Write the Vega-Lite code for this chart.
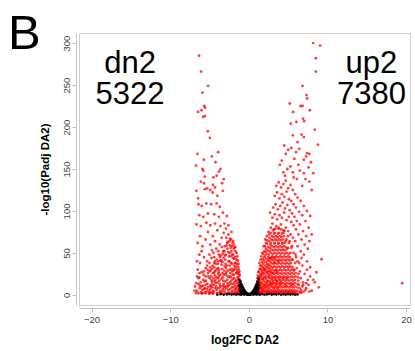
{
"$schema": "https://vega.github.io/schema/vega-lite/v6.json",
"autosize": "none",
"width": 331,
"height": 272,
"padding": {"left": 79, "top": 33, "right": 5, "bottom": 46},
"background": "white",
"config": {"view": {"stroke": "#cfcfcf", "strokeWidth": 1}, "font": "Liberation Sans"},
"title": {"text": "B", "anchor": "start", "frame": "group", "orient": "top", "offset": 0, "dx": -71, "dy": 65, "baseline": "alphabetic", "fontSize": 49, "fontWeight": "normal", "font": "Liberation Sans", "color": "black"},
"datasets": {
"dn": [
{"fc":-0.85,"p":2},{"fc":-0.9,"p":4},{"fc":-0.95,"p":7},{"fc":-0.88,"p":3},{"fc":-1.0,"p":10},{"fc":-0.92,"p":5.5},{"fc":-0.97,"p":1.8},{"fc":-1.02,"p":13},{"fc":-0.9,"p":8.5},
{"fc":-1.1,"p":3},{"fc":-1.15,"p":6},{"fc":-1.2,"p":9},{"fc":-1.05,"p":12},{"fc":-1.25,"p":15},{"fc":-1.18,"p":18},{"fc":-1.22,"p":22},{"fc":-1.28,"p":26},{"fc":-1.12,"p":2},{"fc":-1.3,"p":30},{"fc":-1.27,"p":5},{"fc":-1.08,"p":16},{"fc":-1.24,"p":11},{"fc":-1.16,"p":24},
{"fc":-1.35,"p":2.5},{"fc":-1.4,"p":6},{"fc":-1.45,"p":10},{"fc":-1.5,"p":14},{"fc":-1.38,"p":19},{"fc":-1.42,"p":25},{"fc":-1.55,"p":30},{"fc":-1.48,"p":36},{"fc":-1.58,"p":42},{"fc":-1.33,"p":33},{"fc":-1.52,"p":4},{"fc":-1.6,"p":8},{"fc":-1.44,"p":21},{"fc":-1.57,"p":17},{"fc":-1.36,"p":12},{"fc":-1.5,"p":27},{"fc":-1.46,"p":46},
{"fc":-1.65,"p":3},{"fc":-1.7,"p":7},{"fc":-1.75,"p":11},{"fc":-1.8,"p":15},{"fc":-1.85,"p":20},{"fc":-1.9,"p":24},{"fc":-1.95,"p":29},{"fc":-1.68,"p":33},{"fc":-1.78,"p":38},{"fc":-1.88,"p":43},{"fc":-1.98,"p":48},{"fc":-1.72,"p":52},{"fc":-1.92,"p":55},{"fc":-1.62,"p":26},{"fc":-1.83,"p":5},{"fc":-1.97,"p":9},{"fc":-1.66,"p":17},{"fc":-1.76,"p":2},{"fc":-1.86,"p":31},{"fc":-1.94,"p":13},{"fc":-1.73,"p":45},{"fc":-1.82,"p":57},
{"fc":-2.05,"p":2},{"fc":-2.1,"p":5},{"fc":-2.15,"p":9},{"fc":-2.2,"p":13},{"fc":-2.25,"p":17},{"fc":-2.3,"p":21},{"fc":-2.35,"p":26},{"fc":-2.4,"p":30},{"fc":-2.45,"p":35},{"fc":-2.5,"p":40},{"fc":-2.02,"p":44},{"fc":-2.12,"p":48},{"fc":-2.22,"p":52},{"fc":-2.32,"p":56},{"fc":-2.42,"p":59},{"fc":-2.08,"p":24},{"fc":-2.18,"p":31},{"fc":-2.28,"p":38},{"fc":-2.38,"p":7},{"fc":-2.48,"p":12},{"fc":-2.03,"p":19},{"fc":-2.13,"p":37},{"fc":-2.23,"p":3},{"fc":-2.33,"p":46},{"fc":-2.43,"p":22},{"fc":-2.07,"p":62},{"fc":-2.27,"p":66},{"fc":-2.47,"p":50},
{"fc":-2.55,"p":3},{"fc":-2.6,"p":6},{"fc":-2.65,"p":10},{"fc":-2.7,"p":14},{"fc":-2.75,"p":18},{"fc":-2.8,"p":23},{"fc":-2.85,"p":27},{"fc":-2.9,"p":32},{"fc":-2.95,"p":37},{"fc":-3.0,"p":42},{"fc":-2.52,"p":46},{"fc":-2.62,"p":51},{"fc":-2.72,"p":55},{"fc":-2.82,"p":59},{"fc":-2.92,"p":48},{"fc":-2.58,"p":21},{"fc":-2.68,"p":29},{"fc":-2.78,"p":35},{"fc":-2.88,"p":8},{"fc":-2.98,"p":16},{"fc":-2.57,"p":40},{"fc":-2.77,"p":2},{"fc":-2.67,"p":63},{"fc":-2.87,"p":68},{"fc":-2.97,"p":25},
{"fc":-3.05,"p":2},{"fc":-3.1,"p":5},{"fc":-3.15,"p":9},{"fc":-3.2,"p":13},{"fc":-3.25,"p":17},{"fc":-3.3,"p":21},{"fc":-3.35,"p":26},{"fc":-3.4,"p":31},{"fc":-3.45,"p":36},{"fc":-3.5,"p":41},{"fc":-3.02,"p":47},{"fc":-3.12,"p":52},{"fc":-3.22,"p":44},{"fc":-3.32,"p":49},{"fc":-3.08,"p":34},{"fc":-3.18,"p":24},{"fc":-3.28,"p":11},{"fc":-3.38,"p":4},{"fc":-3.48,"p":19},{"fc":-3.42,"p":57},{"fc":-3.14,"p":29},{"fc":-3.36,"p":39},
{"fc":-3.55,"p":2},{"fc":-3.6,"p":5},{"fc":-3.65,"p":9},{"fc":-3.7,"p":13},{"fc":-3.75,"p":17},{"fc":-3.8,"p":22},{"fc":-3.85,"p":27},{"fc":-3.9,"p":32},{"fc":-3.95,"p":37},{"fc":-3.58,"p":41},{"fc":-3.68,"p":45},{"fc":-3.78,"p":30},{"fc":-3.88,"p":8},{"fc":-3.98,"p":15},{"fc":-3.62,"p":24},{"fc":-3.72,"p":3},{"fc":-3.82,"p":48},{"fc":-3.92,"p":20},
{"fc":-4.05,"p":2},{"fc":-4.1,"p":6},{"fc":-4.15,"p":10},{"fc":-4.2,"p":14},{"fc":-4.25,"p":18},{"fc":-4.3,"p":23},{"fc":-4.35,"p":28},{"fc":-4.4,"p":33},{"fc":-4.45,"p":4},{"fc":-4.08,"p":31},{"fc":-4.18,"p":37},{"fc":-4.28,"p":8},{"fc":-4.38,"p":16},{"fc":-4.48,"p":12},{"fc":-4.12,"p":21},{"fc":-4.42,"p":26},
{"fc":-4.55,"p":2},{"fc":-4.6,"p":5},{"fc":-4.65,"p":9},{"fc":-4.7,"p":13},{"fc":-4.75,"p":18},{"fc":-4.8,"p":22},{"fc":-4.85,"p":3},{"fc":-4.9,"p":7},{"fc":-4.95,"p":11},{"fc":-4.58,"p":26},{"fc":-4.68,"p":16},{"fc":-4.88,"p":29},{"fc":-4.98,"p":20},
{"fc":-5.05,"p":2},{"fc":-5.1,"p":5},{"fc":-5.2,"p":9},{"fc":-5.3,"p":13},{"fc":-5.4,"p":4},{"fc":-5.45,"p":17},{"fc":-5.15,"p":22},{"fc":-5.35,"p":7},{"fc":-5.25,"p":30},
{"fc":-5.6,"p":3},{"fc":-5.7,"p":7},{"fc":-5.8,"p":11},{"fc":-5.9,"p":2},{"fc":-5.65,"p":16},{"fc":-5.95,"p":6},{"fc":-5.75,"p":24},
{"fc":-6.1,"p":3},{"fc":-6.25,"p":8},{"fc":-6.4,"p":13},{"fc":-6.6,"p":5},{"fc":-6.85,"p":10},{"fc":-6.3,"p":21},{"fc":-6.5,"p":30},{"fc":-6.7,"p":2},{"fc":-6.2,"p":38},
{"fc":-4.3,"p":40},{"fc":-4.6,"p":35},{"fc":-4.9,"p":33},{"fc":-5.2,"p":26},{"fc":-5.5,"p":22},{"fc":-5.8,"p":18},{"fc":-6.1,"p":15},{"fc":-6.4,"p":20},{"fc":-6.7,"p":14},{"fc":-6.9,"p":5},{"fc":-6.0,"p":10},{"fc":-5.5,"p":12},{"fc":-5.0,"p":28},{"fc":-4.7,"p":31},{"fc":-4.4,"p":38},{"fc":-4.1,"p":42},{"fc":-3.85,"p":40},{"fc":-3.55,"p":47},{"fc":-3.25,"p":52},{"fc":-3.05,"p":58},{"fc":-2.75,"p":62},{"fc":-2.45,"p":64},{"fc":-2.15,"p":58},{"fc":-1.9,"p":60},{"fc":-1.7,"p":57},{"fc":-1.55,"p":50},{"fc":-1.4,"p":41},{"fc":-1.3,"p":37},{"fc":-1.2,"p":28},{"fc":-5.7,"p":28},{"fc":-6.3,"p":26},{"fc":-6.6,"p":22},{"fc":-5.3,"p":35},{"fc":-5.0,"p":38},{"fc":-4.75,"p":44},{"fc":-4.5,"p":50},{"fc":-6.4,"p":2},{"fc":-6.0,"p":1.8},{"fc":-5.5,"p":1.9},{"fc":-5.0,"p":1.7},{"fc":-4.6,"p":1.6},{"fc":-3.4,"p":1.6},{"fc":-3.0,"p":10},{"fc":-2.7,"p":11},{"fc":-2.4,"p":15},{"fc":-2.1,"p":28},{"fc":-1.85,"p":35},{"fc":-1.6,"p":38},{"fc":-3.6,"p":11},{"fc":-3.3,"p":7},{"fc":-3.9,"p":25},{"fc":-4.2,"p":29},{"fc":-4.5,"p":20},{"fc":-4.8,"p":10},{"fc":-5.6,"p":8},{"fc":-6.2,"p":11},
{"fc":-6.5,"p":62},{"fc":-6.2,"p":70},{"fc":-5.9,"p":58},{"fc":-5.5,"p":66},{"fc":-5.2,"p":75},{"fc":-4.9,"p":60},{"fc":-4.6,"p":70},{"fc":-4.3,"p":64},{"fc":-4.0,"p":77},{"fc":-3.7,"p":60},{"fc":-3.45,"p":68},{"fc":-3.2,"p":74},{"fc":-2.9,"p":79},{"fc":-2.6,"p":72},{"fc":-2.4,"p":67},{"fc":-2.2,"p":75},{"fc":-2.0,"p":64},{"fc":-6.0,"p":52},{"fc":-5.7,"p":45},{"fc":-5.3,"p":40},{"fc":-5.0,"p":48},{"fc":-4.7,"p":53},{"fc":-4.4,"p":45},{"fc":-4.15,"p":55},{"fc":-3.9,"p":52},{"fc":-6.3,"p":48},{"fc":-6.6,"p":40},{"fc":-5.5,"p":32},{"fc":-6.0,"p":27},
{"fc":-6.66,"p":84},{"fc":-6.1,"p":82},{"fc":-5.4,"p":86},{"fc":-4.9,"p":83},{"fc":-4.3,"p":85},{"fc":-3.6,"p":82},{"fc":-3.1,"p":85},{"fc":-2.6,"p":83},
{"fc":-6.3,"p":95},{"fc":-5.8,"p":93},{"fc":-5.2,"p":97},{"fc":-4.4,"p":96},{"fc":-3.8,"p":93},{"fc":-3.3,"p":98},{"fc":-2.8,"p":94},
{"fc":-6.4,"p":108},{"fc":-6.0,"p":106},{"fc":-5.4,"p":109},{"fc":-4.8,"p":108},{"fc":-4.1,"p":109},{"fc":-3.7,"p":105},
{"fc":-6.66,"p":124},{"fc":-5.6,"p":126},{"fc":-6.45,"p":115},{"fc":-4.6,"p":122},{"fc":-4.0,"p":118},{"fc":-3.3,"p":124},
{"fc":-4.55,"p":131},{"fc":-4.3,"p":128},{"fc":-5.3,"p":127},{"fc":-4.9,"p":125},{"fc":-6.1,"p":135},{"fc":-5.7,"p":133},{"fc":-3.2,"p":138},{"fc":-3.4,"p":133},
{"fc":-4.1,"p":142},{"fc":-4.5,"p":140},{"fc":-5.6,"p":141},{"fc":-5.9,"p":150},{"fc":-5.8,"p":148},{"fc":-3.6,"p":150},{"fc":-3.8,"p":147},
{"fc":-6.7,"p":154},{"fc":-4.24,"p":158},{"fc":-5.72,"p":161},{"fc":-4.7,"p":165},{"fc":-3.9,"p":170},{"fc":-6.53,"p":168},
{"fc":-4.96,"p":187},{"fc":-5.22,"p":195},{"fc":-5.81,"p":212},{"fc":-5.6,"p":213},{"fc":-6.02,"p":220},{"fc":-6.45,"p":218},{"fc":-5.56,"p":223},{"fc":-5.68,"p":225},{"fc":-5.89,"p":241},{"fc":-5.18,"p":249},{"fc":-6.07,"p":266},{"fc":-6.32,"p":285}
],
"up": [
{"fc":0.88,"p":2},{"fc":0.9,"p":4},{"fc":0.95,"p":7},{"fc":0.92,"p":3},{"fc":1.0,"p":10},{"fc":0.97,"p":5.5},{"fc":0.86,"p":1.8},{"fc":1.02,"p":13},{"fc":0.94,"p":8.5},
{"fc":1.05,"p":2.5},{"fc":1.08,"p":5},{"fc":1.12,"p":8},{"fc":1.15,"p":11},{"fc":1.18,"p":14},{"fc":1.22,"p":18},{"fc":1.25,"p":21},{"fc":1.1,"p":16},{"fc":1.2,"p":3.5},{"fc":1.14,"p":23},{"fc":1.24,"p":6.5},{"fc":1.06,"p":12},
{"fc":1.28,"p":2},{"fc":1.3,"p":4.5},{"fc":1.33,"p":7.5},{"fc":1.36,"p":10},{"fc":1.4,"p":13},{"fc":1.43,"p":17},{"fc":1.46,"p":21},{"fc":1.49,"p":25},{"fc":1.3,"p":28},{"fc":1.38,"p":31},{"fc":1.45,"p":35},{"fc":1.27,"p":14},{"fc":1.35,"p":22},{"fc":1.42,"p":3},{"fc":1.48,"p":9},{"fc":1.32,"p":18},
{"fc":1.52,"p":2},{"fc":1.55,"p":5},{"fc":1.58,"p":8},{"fc":1.6,"p":11},{"fc":1.63,"p":15},{"fc":1.66,"p":19},{"fc":1.7,"p":23},{"fc":1.73,"p":27},{"fc":1.55,"p":31},{"fc":1.62,"p":35},{"fc":1.69,"p":39},{"fc":1.74,"p":43},{"fc":1.57,"p":13},{"fc":1.65,"p":3},{"fc":1.71,"p":7},{"fc":1.53,"p":24},{"fc":1.67,"p":29},{"fc":1.6,"p":46},
{"fc":1.77,"p":2.5},{"fc":1.8,"p":6},{"fc":1.83,"p":9},{"fc":1.86,"p":13},{"fc":1.9,"p":17},{"fc":1.93,"p":21},{"fc":1.96,"p":25},{"fc":1.99,"p":29},{"fc":1.78,"p":33},{"fc":1.85,"p":37},{"fc":1.92,"p":41},{"fc":1.98,"p":45},{"fc":1.81,"p":49},{"fc":1.88,"p":4},{"fc":1.95,"p":11},{"fc":1.79,"p":19},{"fc":1.91,"p":31},{"fc":1.84,"p":26},{"fc":1.97,"p":52},
{"fc":2.02,"p":2},{"fc":2.05,"p":5},{"fc":2.08,"p":8},{"fc":2.11,"p":12},{"fc":2.14,"p":15},{"fc":2.17,"p":19},{"fc":2.2,"p":23},{"fc":2.23,"p":27},{"fc":2.03,"p":31},{"fc":2.1,"p":35},{"fc":2.16,"p":39},{"fc":2.22,"p":43},{"fc":2.06,"p":47},{"fc":2.13,"p":51},{"fc":2.19,"p":55},{"fc":2.24,"p":3.5},{"fc":2.09,"p":21},{"fc":2.21,"p":10},{"fc":2.15,"p":30},{"fc":2.04,"p":58},{"fc":2.18,"p":62},
{"fc":2.27,"p":2.5},{"fc":2.3,"p":6},{"fc":2.33,"p":9},{"fc":2.36,"p":13},{"fc":2.4,"p":17},{"fc":2.43,"p":21},{"fc":2.46,"p":25},{"fc":2.49,"p":29},{"fc":2.28,"p":33},{"fc":2.35,"p":37},{"fc":2.42,"p":41},{"fc":2.48,"p":45},{"fc":2.31,"p":49},{"fc":2.38,"p":53},{"fc":2.45,"p":57},{"fc":2.29,"p":61},{"fc":2.44,"p":4},{"fc":2.34,"p":16},{"fc":2.47,"p":11},{"fc":2.39,"p":27},{"fc":2.32,"p":65},{"fc":2.41,"p":35},
{"fc":2.52,"p":2},{"fc":2.55,"p":5},{"fc":2.58,"p":8},{"fc":2.61,"p":12},{"fc":2.64,"p":16},{"fc":2.67,"p":20},{"fc":2.7,"p":24},{"fc":2.73,"p":28},{"fc":2.53,"p":32},{"fc":2.6,"p":36},{"fc":2.66,"p":40},{"fc":2.72,"p":44},{"fc":2.56,"p":48},{"fc":2.63,"p":52},{"fc":2.69,"p":56},{"fc":2.74,"p":60},{"fc":2.57,"p":64},{"fc":2.65,"p":3.5},{"fc":2.71,"p":14},{"fc":2.54,"p":22},{"fc":2.68,"p":31},{"fc":2.62,"p":68},{"fc":2.59,"p":43},
{"fc":2.77,"p":2.5},{"fc":2.8,"p":6},{"fc":2.83,"p":10},{"fc":2.86,"p":14},{"fc":2.9,"p":18},{"fc":2.93,"p":22},{"fc":2.96,"p":26},{"fc":2.99,"p":30},{"fc":2.78,"p":34},{"fc":2.85,"p":38},{"fc":2.92,"p":42},{"fc":2.98,"p":46},{"fc":2.81,"p":50},{"fc":2.88,"p":54},{"fc":2.94,"p":58},{"fc":2.79,"p":62},{"fc":2.87,"p":66},{"fc":2.95,"p":70},{"fc":2.84,"p":3.5},{"fc":2.91,"p":12},{"fc":2.97,"p":20},{"fc":2.82,"p":27},{"fc":2.89,"p":44},
{"fc":3.02,"p":2},{"fc":3.05,"p":5},{"fc":3.08,"p":9},{"fc":3.11,"p":13},{"fc":3.14,"p":17},{"fc":3.17,"p":21},{"fc":3.2,"p":25},{"fc":3.23,"p":29},{"fc":3.03,"p":33},{"fc":3.1,"p":37},{"fc":3.16,"p":41},{"fc":3.22,"p":45},{"fc":3.06,"p":49},{"fc":3.13,"p":53},{"fc":3.19,"p":57},{"fc":3.24,"p":61},{"fc":3.07,"p":65},{"fc":3.15,"p":69},{"fc":3.21,"p":73},{"fc":3.04,"p":15},{"fc":3.12,"p":3.5},{"fc":3.18,"p":8},{"fc":3.09,"p":26},{"fc":3.25,"p":38},
{"fc":3.27,"p":2.5},{"fc":3.3,"p":6},{"fc":3.33,"p":10},{"fc":3.36,"p":14},{"fc":3.4,"p":18},{"fc":3.43,"p":22},{"fc":3.46,"p":26},{"fc":3.49,"p":30},{"fc":3.28,"p":34},{"fc":3.35,"p":38},{"fc":3.42,"p":42},{"fc":3.48,"p":46},{"fc":3.31,"p":50},{"fc":3.38,"p":54},{"fc":3.44,"p":58},{"fc":3.29,"p":62},{"fc":3.37,"p":66},{"fc":3.45,"p":70},{"fc":3.32,"p":74},{"fc":3.41,"p":3.5},{"fc":3.47,"p":12},{"fc":3.34,"p":20},{"fc":3.39,"p":29},{"fc":3.26,"p":44},
{"fc":3.52,"p":2},{"fc":3.55,"p":5},{"fc":3.58,"p":9},{"fc":3.61,"p":13},{"fc":3.64,"p":17},{"fc":3.67,"p":21},{"fc":3.7,"p":25},{"fc":3.73,"p":29},{"fc":3.53,"p":33},{"fc":3.6,"p":37},{"fc":3.66,"p":41},{"fc":3.72,"p":45},{"fc":3.56,"p":49},{"fc":3.63,"p":53},{"fc":3.69,"p":57},{"fc":3.74,"p":61},{"fc":3.57,"p":65},{"fc":3.65,"p":69},{"fc":3.71,"p":73},{"fc":3.54,"p":16},{"fc":3.62,"p":3.5},{"fc":3.68,"p":8},{"fc":3.59,"p":27},{"fc":3.75,"p":40},
{"fc":3.77,"p":2.5},{"fc":3.8,"p":6},{"fc":3.83,"p":10},{"fc":3.86,"p":14},{"fc":3.9,"p":18},{"fc":3.93,"p":22},{"fc":3.96,"p":26},{"fc":3.99,"p":30},{"fc":3.78,"p":34},{"fc":3.85,"p":38},{"fc":3.92,"p":42},{"fc":3.98,"p":46},{"fc":3.81,"p":50},{"fc":3.88,"p":54},{"fc":3.94,"p":58},{"fc":3.79,"p":62},{"fc":3.87,"p":66},{"fc":3.95,"p":70},{"fc":3.82,"p":74},{"fc":3.91,"p":3.5},{"fc":3.97,"p":12},{"fc":3.84,"p":20},
{"fc":4.02,"p":2},{"fc":4.05,"p":5},{"fc":4.08,"p":9},{"fc":4.11,"p":13},{"fc":4.14,"p":17},{"fc":4.17,"p":21},{"fc":4.2,"p":25},{"fc":4.23,"p":29},{"fc":4.03,"p":33},{"fc":4.1,"p":37},{"fc":4.16,"p":41},{"fc":4.22,"p":45},{"fc":4.06,"p":49},{"fc":4.13,"p":53},{"fc":4.19,"p":57},{"fc":4.24,"p":61},{"fc":4.07,"p":65},{"fc":4.15,"p":69},{"fc":4.21,"p":73},{"fc":4.04,"p":15},{"fc":4.12,"p":3.5},
{"fc":4.27,"p":2.5},{"fc":4.3,"p":6},{"fc":4.33,"p":10},{"fc":4.36,"p":14},{"fc":4.4,"p":18},{"fc":4.43,"p":22},{"fc":4.46,"p":26},{"fc":4.49,"p":30},{"fc":4.28,"p":34},{"fc":4.35,"p":38},{"fc":4.42,"p":42},{"fc":4.48,"p":46},{"fc":4.31,"p":50},{"fc":4.38,"p":54},{"fc":4.44,"p":58},{"fc":4.29,"p":62},{"fc":4.37,"p":66},{"fc":4.45,"p":70},{"fc":4.41,"p":3.5},{"fc":4.34,"p":20},
{"fc":4.52,"p":2},{"fc":4.55,"p":5},{"fc":4.58,"p":9},{"fc":4.61,"p":13},{"fc":4.64,"p":17},{"fc":4.67,"p":21},{"fc":4.7,"p":25},{"fc":4.73,"p":29},{"fc":4.53,"p":33},{"fc":4.6,"p":37},{"fc":4.66,"p":41},{"fc":4.72,"p":45},{"fc":4.56,"p":49},{"fc":4.63,"p":53},{"fc":4.69,"p":57},{"fc":4.57,"p":62},{"fc":4.65,"p":3.5},{"fc":4.71,"p":11},
{"fc":4.77,"p":2.5},{"fc":4.8,"p":6},{"fc":4.83,"p":10},{"fc":4.86,"p":14},{"fc":4.9,"p":18},{"fc":4.93,"p":22},{"fc":4.96,"p":26},{"fc":4.99,"p":30},{"fc":4.78,"p":34},{"fc":4.85,"p":38},{"fc":4.92,"p":42},{"fc":4.98,"p":46},{"fc":4.81,"p":50},{"fc":4.88,"p":55},{"fc":4.91,"p":3.5},{"fc":4.84,"p":20},
{"fc":5.02,"p":2},{"fc":5.05,"p":5},{"fc":5.08,"p":9},{"fc":5.11,"p":13},{"fc":5.14,"p":17},{"fc":5.17,"p":21},{"fc":5.2,"p":25},{"fc":5.23,"p":29},{"fc":5.03,"p":33},{"fc":5.1,"p":37},{"fc":5.16,"p":41},{"fc":5.22,"p":45},{"fc":5.06,"p":49},{"fc":5.12,"p":3.5},
{"fc":5.27,"p":2.5},{"fc":5.3,"p":6},{"fc":5.33,"p":10},{"fc":5.36,"p":14},{"fc":5.4,"p":18},{"fc":5.43,"p":22},{"fc":5.46,"p":26},{"fc":5.49,"p":30},{"fc":5.28,"p":34},{"fc":5.35,"p":38},{"fc":5.42,"p":42},{"fc":5.31,"p":4},{"fc":5.45,"p":12},
{"fc":5.52,"p":2},{"fc":5.55,"p":5},{"fc":5.58,"p":9},{"fc":5.61,"p":13},{"fc":5.64,"p":17},{"fc":5.67,"p":21},{"fc":5.7,"p":25},{"fc":5.73,"p":29},{"fc":5.56,"p":33},{"fc":5.62,"p":3.5},
{"fc":5.77,"p":2.5},{"fc":5.8,"p":6},{"fc":5.83,"p":10},{"fc":5.86,"p":14},{"fc":5.9,"p":18},{"fc":5.93,"p":22},{"fc":5.96,"p":26},{"fc":5.8,"p":30},{"fc":5.88,"p":3.5},
{"fc":6.05,"p":2},{"fc":6.1,"p":5},{"fc":6.15,"p":9},{"fc":6.2,"p":13},{"fc":6.3,"p":17},{"fc":6.4,"p":4},{"fc":6.25,"p":21},{"fc":6.45,"p":8},{"fc":6.35,"p":12},
{"fc":6.55,"p":2.5},{"fc":6.65,"p":6},{"fc":6.8,"p":10},{"fc":6.7,"p":3},{"fc":6.9,"p":15},{"fc":7.0,"p":4},
{"fc":6.3,"p":25},{"fc":6.6,"p":20},{"fc":6.9,"p":12},{"fc":7.2,"p":6},{"fc":7.5,"p":18},{"fc":6.1,"p":32},{"fc":6.5,"p":28},{"fc":5.9,"p":38},{"fc":5.6,"p":42},{"fc":5.3,"p":50},{"fc":5.0,"p":56},{"fc":4.7,"p":64},{"fc":4.4,"p":74},{"fc":4.1,"p":78},{"fc":3.8,"p":80},{"fc":3.4,"p":79},{"fc":3.1,"p":77},{"fc":2.8,"p":74},{"fc":2.6,"p":72},{"fc":2.3,"p":70},{"fc":2.1,"p":66},{"fc":1.9,"p":58},{"fc":1.7,"p":50},{"fc":1.5,"p":42},{"fc":1.35,"p":38},{"fc":1.2,"p":27},{"fc":1.1,"p":20},{"fc":7.1,"p":25},{"fc":7.4,"p":30},{"fc":6.8,"p":35},{"fc":6.2,"p":40},{"fc":5.95,"p":48},{"fc":5.5,"p":58},{"fc":5.2,"p":64},{"fc":4.95,"p":70},{"fc":4.55,"p":76},{"fc":6.7,"p":44},{"fc":7.3,"p":14},{"fc":8.2,"p":18},{"fc":7.7,"p":4},
{"fc":7.3,"p":8},{"fc":7.6,"p":12},{"fc":8.0,"p":5},{"fc":8.4,"p":15},{"fc":8.9,"p":9},{"fc":9.25,"p":42.5},{"fc":19.5,"p":14},{"fc":7.8,"p":22},{"fc":8.6,"p":27},
{"fc":2.5,"p":75},{"fc":2.8,"p":80},{"fc":3.0,"p":85},{"fc":3.2,"p":78},{"fc":3.5,"p":82},{"fc":3.8,"p":79},{"fc":4.1,"p":84},{"fc":4.4,"p":77},{"fc":4.7,"p":80},{"fc":5.0,"p":76},{"fc":5.3,"p":72},{"fc":5.6,"p":68},{"fc":5.9,"p":64},{"fc":6.2,"p":58},{"fc":6.6,"p":52},{"fc":7.0,"p":48},{"fc":7.4,"p":40},{"fc":7.8,"p":33},{"fc":6.0,"p":45},{"fc":6.4,"p":38},{"fc":5.7,"p":50},{"fc":5.4,"p":56},{"fc":5.1,"p":62},{"fc":4.8,"p":66},
{"fc":3.0,"p":92},{"fc":3.3,"p":96},{"fc":3.6,"p":90},{"fc":3.9,"p":95},{"fc":4.2,"p":92},{"fc":4.5,"p":98},{"fc":4.8,"p":89},{"fc":5.1,"p":93},{"fc":5.4,"p":87},{"fc":5.7,"p":83},{"fc":6.0,"p":78},{"fc":6.3,"p":72},{"fc":6.7,"p":66},{"fc":7.1,"p":60},{"fc":7.5,"p":55},{"fc":2.7,"p":98},
{"fc":3.1,"p":104},{"fc":3.4,"p":108},{"fc":3.7,"p":102},{"fc":4.0,"p":106},{"fc":4.3,"p":110},{"fc":4.6,"p":103},{"fc":4.9,"p":107},{"fc":5.2,"p":101},{"fc":5.5,"p":97},{"fc":5.8,"p":93},{"fc":6.1,"p":88},{"fc":6.5,"p":84},{"fc":6.9,"p":76},{"fc":7.3,"p":70},{"fc":7.7,"p":64},
{"fc":3.3,"p":118},{"fc":3.6,"p":122},{"fc":3.9,"p":115},{"fc":4.2,"p":120},{"fc":4.5,"p":117},{"fc":4.8,"p":123},{"fc":5.1,"p":114},{"fc":5.4,"p":112},{"fc":5.7,"p":108},{"fc":6.0,"p":104},{"fc":6.4,"p":99},{"fc":6.8,"p":95},{"fc":7.2,"p":88},{"fc":7.6,"p":80},{"fc":8.0,"p":72},
{"fc":3.5,"p":130},{"fc":3.8,"p":134},{"fc":4.1,"p":128},{"fc":4.4,"p":132},{"fc":4.7,"p":136},{"fc":5.0,"p":127},{"fc":5.3,"p":131},{"fc":5.6,"p":125},{"fc":5.9,"p":120},{"fc":6.2,"p":116},{"fc":6.6,"p":112},{"fc":7.0,"p":106},{"fc":7.4,"p":100},{"fc":7.8,"p":94},
{"fc":3.94,"p":155},{"fc":4.4,"p":146},{"fc":4.9,"p":150},{"fc":5.3,"p":153},{"fc":5.6,"p":146},{"fc":6.3,"p":155},{"fc":6.5,"p":148},{"fc":7.0,"p":145},{"fc":7.6,"p":152},{"fc":5.7,"p":140},{"fc":6.1,"p":138},{"fc":7.2,"p":138},{"fc":7.7,"p":135},{"fc":4.6,"p":142},
{"fc":5.0,"p":173},{"fc":5.4,"p":175},{"fc":6.4,"p":174},{"fc":7.4,"p":169},{"fc":7.7,"p":168},{"fc":7.3,"p":165},{"fc":7.0,"p":161},{"fc":8.8,"p":179},{"fc":6.7,"p":191},{"fc":7.0,"p":188},{"fc":8.4,"p":197},{"fc":5.33,"p":204},{"fc":6.05,"p":206},{"fc":6.9,"p":210},{"fc":7.05,"p":207},{"fc":5.63,"p":218},{"fc":7.76,"p":220},{"fc":5.21,"p":228},{"fc":6.57,"p":225},{"fc":6.83,"p":225},{"fc":7.34,"p":238},{"fc":7.42,"p":234},{"fc":6.83,"p":249},{"fc":8.52,"p":266},{"fc":8.52,"p":282},{"fc":8.18,"p":300},{"fc":9.07,"p":297},
{"fc":4.2,"p":160},{"fc":4.7,"p":168},{"fc":5.8,"p":162},{"fc":6.2,"p":182},{"fc":5.6,"p":190},{"fc":6.0,"p":170},{"fc":4.5,"p":178},{"fc":7.9,"p":158},{"fc":8.2,"p":145},{"fc":6.8,"p":130},{"fc":8.0,"p":125}
],
"ns": [
{"fc":-4.0,"p":0.3},{"fc":-3.6,"p":0.8},{"fc":-3.2,"p":0.2},{"fc":-2.8,"p":0.6},{"fc":-2.5,"p":1.0},{"fc":-2.2,"p":0.4},{"fc":-1.9,"p":0.9},{"fc":-1.6,"p":0.3},{"fc":-1.4,"p":1.1},{"fc":-1.2,"p":0.5},{"fc":-1.0,"p":0.2},{"fc":-0.8,"p":0.9},{"fc":-0.6,"p":0.4},{"fc":-0.4,"p":0.7},{"fc":-0.2,"p":0.2},{"fc":0,"p":0.5},{"fc":0.2,"p":0.3},{"fc":0.4,"p":0.8},{"fc":0.6,"p":0.2},{"fc":0.8,"p":1.0},{"fc":1.0,"p":0.4},{"fc":1.2,"p":0.8},{"fc":1.4,"p":0.3},{"fc":1.7,"p":0.9},{"fc":2.0,"p":0.2},{"fc":2.3,"p":0.6},{"fc":2.6,"p":1.1},{"fc":2.9,"p":0.3},{"fc":3.2,"p":0.8},{"fc":3.5,"p":0.4},{"fc":3.8,"p":1.0},{"fc":4.1,"p":0.2},{"fc":4.4,"p":0.7},{"fc":4.7,"p":0.3},{"fc":5.0,"p":0.9},{"fc":5.3,"p":0.4},{"fc":5.6,"p":0.8},{"fc":5.9,"p":0.2},{"fc":6.2,"p":0.6},
{"fc":-1.2,"p":18},{"fc":-1.15,"p":15},{"fc":-1.1,"p":12},{"fc":-1.05,"p":16},{"fc":-1.0,"p":10},{"fc":-0.95,"p":13},{"fc":-0.9,"p":8},{"fc":-0.85,"p":11},{"fc":-0.8,"p":6},{"fc":-0.75,"p":9},{"fc":-0.7,"p":5},{"fc":-0.65,"p":7},{"fc":-0.6,"p":4},{"fc":-0.55,"p":5.5},{"fc":-0.5,"p":3},{"fc":-0.45,"p":4},{"fc":-0.4,"p":2.2},{"fc":-0.35,"p":2.8},{"fc":-0.3,"p":1.6},{"fc":-0.25,"p":2},{"fc":-0.2,"p":1.3},{"fc":-1.1,"p":5},{"fc":-1.0,"p":3},{"fc":-0.9,"p":2},{"fc":-0.8,"p":1.5},{"fc":-0.7,"p":2.5},{"fc":-1.15,"p":8},{"fc":-1.2,"p":11},{"fc":-0.95,"p":6},{"fc":-0.85,"p":4},
{"fc":1.25,"p":19},{"fc":1.2,"p":15},{"fc":1.15,"p":12},{"fc":1.1,"p":16},{"fc":1.05,"p":10},{"fc":1.0,"p":13},{"fc":0.95,"p":8},{"fc":0.9,"p":11},{"fc":0.85,"p":6},{"fc":0.8,"p":9},{"fc":0.75,"p":5},{"fc":0.7,"p":7},{"fc":0.65,"p":4},{"fc":0.6,"p":5.5},{"fc":0.55,"p":3},{"fc":0.5,"p":4},{"fc":0.45,"p":2.2},{"fc":0.4,"p":2.8},{"fc":0.35,"p":1.6},{"fc":0.3,"p":2},{"fc":0.25,"p":1.3},{"fc":1.15,"p":5},{"fc":1.05,"p":3},{"fc":0.95,"p":2},{"fc":0.85,"p":1.5},{"fc":0.75,"p":2.5},{"fc":1.2,"p":8},{"fc":1.25,"p":11},{"fc":1.0,"p":6},{"fc":0.9,"p":4},
{"fc":-0.15,"p":0.8},{"fc":-0.1,"p":1.0},{"fc":0.1,"p":0.9},{"fc":0.15,"p":0.6},{"fc":0,"p":1.2},{"fc":-0.05,"p":0.3},{"fc":0.05,"p":0.4}
],
"lab": [
{"fc":-15.1,"p":264.6,"t":"dn2"},{"fc":-15.1,"p":227,"t":"5322"},{"fc":15.6,"p":264.6,"t":"up2"},{"fc":15.6,"p":227,"t":"7380"}
]
},
"encoding": {
"x": {"field": "fc", "type": "quantitative", "scale": {"domain": [-21.6, 20.5], "nice": false, "zero": false},
 "axis": {"values": [-20, -10, 0, 10, 20], "grid": false, "offset": 3, "domainColor": "#c4c4c4", "tickColor": "#c4c4c4", "tickSize": 4, "labelFont": "Liberation Sans", "labelFontSize": 9.5, "labelColor": "#444444", "labelPadding": 2, "title": "log2FC DA2", "titleFont": "Liberation Sans", "titleFontSize": 12, "titleFontWeight": "bold", "titleColor": "black", "titlePadding": 11}},
"y": {"field": "p", "type": "quantitative", "scale": {"domain": [-12, 312], "nice": false, "zero": false},
 "axis": {"values": [0, 50, 100, 150, 200, 250, 300], "grid": false, "offset": 3, "domainColor": "#c4c4c4", "tickColor": "#c4c4c4", "tickSize": 4, "labelFont": "Liberation Sans", "labelFontSize": 9.5, "labelColor": "#444444", "labelAngle": 270, "labelAlign": "center", "labelBaseline": "bottom", "labelPadding": 1, "title": "-log10(Padj DA2)", "titleFont": "Liberation Sans", "titleFontSize": 11.5, "titleFontWeight": "bold", "titleColor": "black", "titlePadding": 11}}
},
"layer": [
{"data": {"name": "dn"}, "mark": {"type": "circle", "color": "#ff0000", "size": 8, "opacity": 0.75}},
{"data": {"name": "up"}, "mark": {"type": "circle", "color": "#ff0000", "size": 8, "opacity": 0.75}},
{"data": {"name": "ns"}, "mark": {"type": "circle", "color": "#000000", "size": 7, "opacity": 0.9}},
{"data": {"name": "lab"}, "mark": {"type": "text", "font": "Liberation Sans", "fontSize": 31, "align": "center", "baseline": "alphabetic", "color": "black"}, "encoding": {"text": {"field": "t", "type": "nominal"}}}
]
}
